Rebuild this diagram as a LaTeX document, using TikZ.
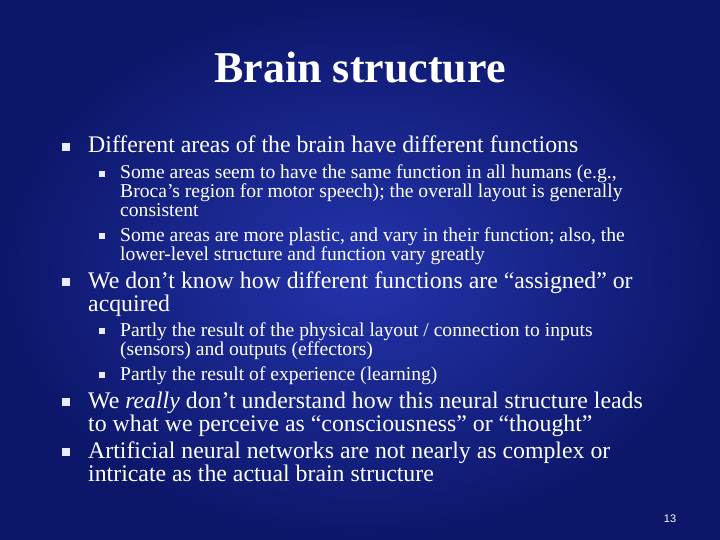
\documentclass[tikz,border=0pt]{standalone}
\usepackage{fontspec}
\setmainfont{Liberation Serif}
\setsansfont{Liberation Sans}
\definecolor{slideEdge}{HTML}{0C176A}
\definecolor{slideCore}{HTML}{2434AC}
\tikzset{
  slidetitle/.style={font=\fontsize{44}{48}\selectfont\bfseries, text=white},
  itemone/.style={anchor=base west, inner sep=0pt, font=\fontsize{23.8}{25}\selectfont, text=white},
  itemtwo/.style={anchor=base west, inner sep=0pt, font=\fontsize{19.6}{21}\selectfont, text=white},
  bulone/.style={fill=white!92!blue, minimum size=8pt, inner sep=0pt},
  bultwo/.style={fill=white!92!blue, minimum size=6pt, inner sep=0pt}
}
\begin{document}
\begin{tikzpicture}[x=1pt,y=-1pt]
\useasboundingbox (0,0) rectangle (720,540);
\shade[inner color=slideCore, outer color=slideEdge] (0,0) rectangle (720,540);

\node[slidetitle] (title) at (360,68) {Brain structure};

% first point
\node[bulone] (b1) at (66,147) {};
\node[itemone] (t1) at (88,153) {Different areas of the brain have different functions};
\node[bultwo] (b1a) at (102,174) {};
\node[itemtwo] (t1a) at (120,179) {Some areas seem to have the same function in all humans (e.g.,};
\node[itemtwo] (t1a2) at (120,198) {Broca’s region for motor speech); the overall layout is generally};
\node[itemtwo] (t1a3) at (120,217) {consistent};
\node[bultwo] (b1b) at (102,236) {};
\node[itemtwo] (t1b) at (120,241) {Some areas are more plastic, and vary in their function; also, the};
\node[itemtwo] (t1b2) at (120,260) {lower-level structure and function vary greatly};

% second point
\node[bulone] (b2) at (66,282) {};
\node[itemone] (t2) at (88,288) {We don’t know how different functions are “assigned” or};
\node[itemone] (t22) at (88,311) {acquired};
\node[bultwo] (b2a) at (102,331) {};
\node[itemtwo] (t2a) at (120,336) {Partly the result of the physical layout / connection to inputs};
\node[itemtwo] (t2a2) at (120,355) {(sensors) and outputs (effectors)};
\node[bultwo] (b2b) at (102,375) {};
\node[itemtwo] (t2b) at (120,380) {Partly the result of experience (learning)};

% last points
\node[bulone] (b3) at (66,402) {};
\node[itemone] (t3) at (88,408) {We \textit{really} don’t understand how this neural structure leads};
\node[itemone] (t32) at (88,431) {to what we perceive as “consciousness” or “thought”};
\node[bulone] (b4) at (66,452) {};
\node[itemone] (t4) at (88,458) {Artificial neural networks are not nearly as complex or};
\node[itemone] (t42) at (88,481) {intricate as the actual brain structure};

\node[font=\sffamily\fontsize{11}{12}\selectfont, text=white] (page) at (670,519) {13};
\end{tikzpicture}
\end{document}
